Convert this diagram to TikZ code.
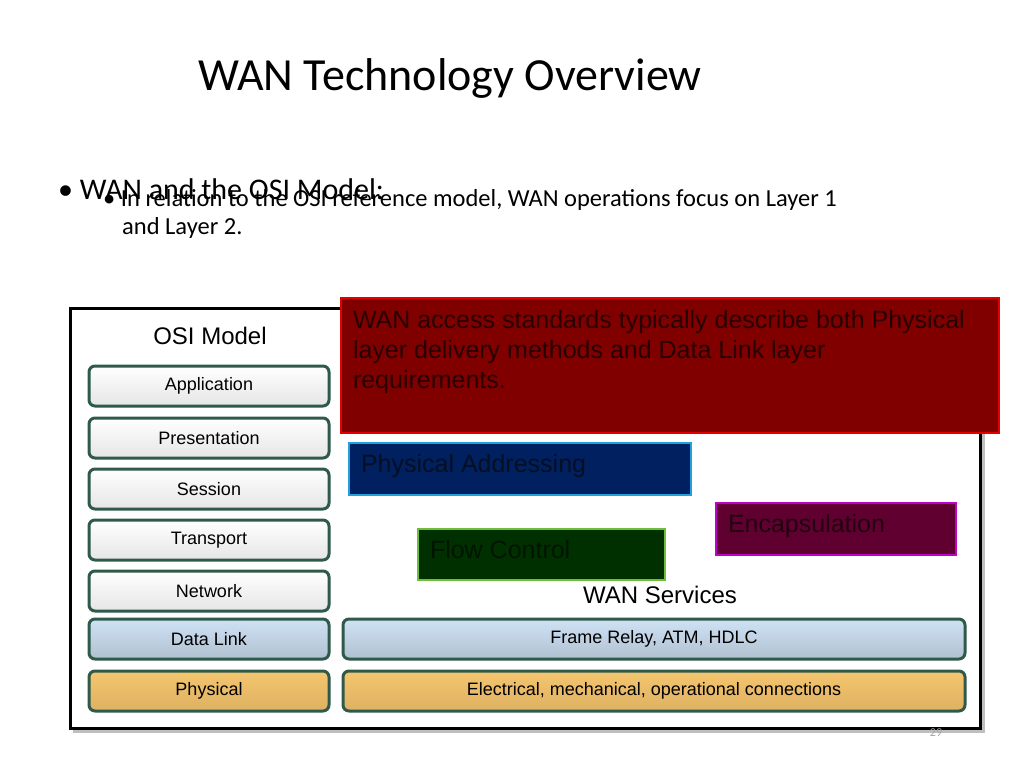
\documentclass[tikz,border=0pt]{standalone}
\usepackage{fontspec}
\setmainfont{Carlito}
\newfontfamily\arialf{Liberation Sans}
\usetikzlibrary{positioning}
\definecolor{layeredge}{HTML}{2F5A4A}
\definecolor{linkfill}{HTML}{CFE2F5}
\definecolor{physfill}{HTML}{F6C56E}
\tikzset{
  layer/.style={draw=layeredge, line width=3pt, rounded corners=6pt, minimum height=40pt,
    font=\arialf\fontsize{18}{20}\selectfont, inner sep=0pt},
  osi/.style={layer, minimum width=240pt, top color=white, bottom color=black!10},
  note/.style={line width=2pt, anchor=north west, align=left, inner sep=0pt,
    font=\arialf\fontsize{25}{30}\selectfont}
}
\begin{document}
\begin{tikzpicture}[x=1pt,y=-1pt]
  \useasboundingbox (0,0) rectangle (1024,768);
  \fill[white] (0,0) rectangle (1024,768);
  % slide text
  \node[anchor=base west, font=\fontsize{46}{50}\selectfont, inner sep=0pt] (title) at (198,90) {WAN Technology Overview};
  \node[anchor=base west, font=\fontsize{30}{34}\selectfont, inner sep=0pt] (b1) at (58,199) {\textbullet\ WAN and the OSI Model:};
  \node[anchor=base west, font=\fontsize{24.5}{28}\selectfont, align=left, inner sep=0pt]
    (b2) at (103,234) {\textbullet\ In relation to the OSI reference model, WAN operations focus on Layer 1\\
    \hspace*{19pt}and Layer 2.};
  % figure frame
  \fill[black!25] (73,311) rectangle (985,733);
  \draw[line width=3pt, fill=white] (70,308) rectangle (980,728);
  \node[font=\arialf\fontsize{24}{28}\selectfont] (osititle) at (210,336) {OSI Model};
  \foreach \name/\y in {Application/386, Presentation/438, Session/489, Transport/540, Network/591}
    \node[osi] (\name) at (209,\y) {\name};
  \node[osi, top color=linkfill, bottom color=linkfill!85!black] (datalink) at (209,639) {Data Link};
  \node[osi, top color=physfill, bottom color=physfill!90!black] (physical) at (209,691) {Physical};
  \node[layer, minimum width=622pt, top color=linkfill, bottom color=linkfill!85!black] (frame) at (654,639)
    {Frame Relay, ATM, HDLC};
  \node[layer, minimum width=622pt, top color=physfill, bottom color=physfill!90!black] (elec) at (654,691)
    {Electrical, mechanical, operational connections};
  \node[font=\arialf\fontsize{24}{28}\selectfont] (services) at (660,595) {WAN Services};
  % callouts
  \draw[line width=2pt, draw=red!90!black, fill={rgb,255:red,128;green,0;blue,0}] (341,298) rectangle (999,433);
  \node[note, text={rgb,255:red,40;green,0;blue,0}] (access) at (352,309)
    {WAN access standards typically describe both Physical\\layer delivery methods and Data Link layer\\requirements.};
  \draw[line width=2pt, draw={rgb,255:red,30;green,160;blue,225}, fill={rgb,255:red,0;green,32;blue,96}] (349,443) rectangle (691,495);
  \node[note, text={rgb,255:red,5;green,15;blue,35}] (addr) at (360,453) {Physical Addressing};
  \draw[line width=2pt, draw={rgb,255:red,190;green,0;blue,200}, fill={rgb,255:red,96;green,0;blue,48}] (716,503) rectangle (956,555);
  \node[note, text={rgb,255:red,35;green,0;blue,15}] (encap) at (727,513) {Encapsulation};
  \draw[line width=2pt, draw={rgb,255:red,110;green,190;blue,60}, fill={rgb,255:red,0;green,48;blue,0}] (418,529) rectangle (665,580);
  \node[note, text={rgb,255:red,0;green,20;blue,0}] (flow) at (429,539) {Flow Control};
  \node[text=black!35, font=\fontsize{12}{14}\selectfont] (page) at (936,733) {29};
\end{tikzpicture}
\end{document}
